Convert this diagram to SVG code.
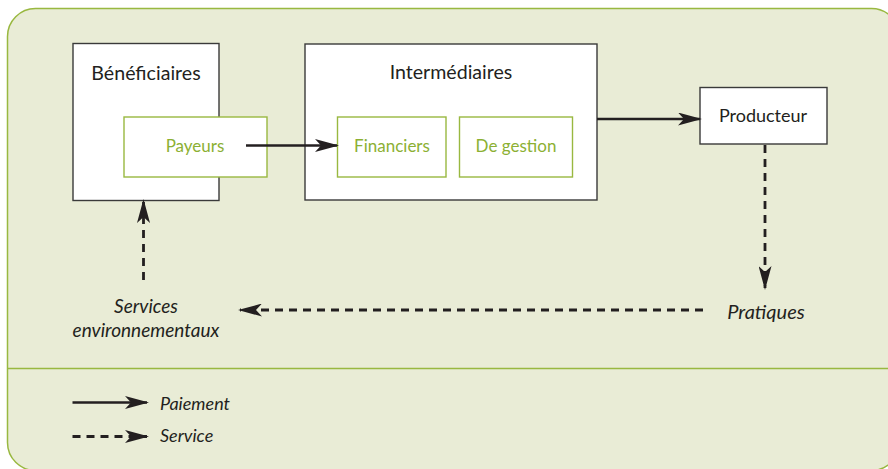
<svg xmlns="http://www.w3.org/2000/svg" width="888" height="469" viewBox="0 0 888 469">
<style>
.box{fill:#fff;stroke:#3a3a3a;stroke-width:1.4}
.gbox{fill:#fff;stroke:#99b840;stroke-width:1.4}
.t{font-family:Lato,"Open Sans",sans-serif;font-size:18px;fill:#231f20;text-anchor:middle}
.g{font-family:Lato,"Open Sans",sans-serif;font-size:17px;fill:#8cb033;text-anchor:middle}
.i{font-family:Lato,"Open Sans",sans-serif;font-size:19px;font-style:italic;fill:#231f20}
.solid{fill:none;stroke:#231f20;stroke-width:2.6;marker-end:url(#ah)}
.dash{fill:none;stroke:#231f20;stroke-width:2.8;stroke-dasharray:8 6;marker-end:url(#ah)}
</style>
<defs>
<marker id="ah" viewBox="0 0 24 13" refX="22" refY="6.5" markerWidth="24" markerHeight="13" markerUnits="userSpaceOnUse" orient="auto">
<path d="M0,0 L24,6.5 L0,13 L6,6.5 Z" fill="#231f20"/>
</marker>
</defs>
<rect id="panel" x="7.5" y="8.5" width="892" height="462" rx="28" fill="#e9ecd6" stroke="#99b840" stroke-width="1.5"/>
<line x1="7.5" y1="368.5" x2="888" y2="368.5" stroke="#99b840" stroke-width="1.5"/>
<g id="beneficiaires">
<rect class="box" x="73" y="43.5" width="146" height="157"/>
<text class="t" x="146" y="80" style="font-size:19.6px">Bénéficiaires</text>
</g>
<g id="payeurs">
<rect class="gbox" x="124" y="117" width="143" height="60"/>
<text class="g" x="195" y="152">Payeurs</text>
</g>
<g id="intermediaires">
<rect class="box" x="305" y="44" width="292" height="156"/>
<text class="t" x="451" y="79" style="font-size:19.6px">Intermédiaires</text>
</g>
<g id="financiers">
<rect class="gbox" x="337.5" y="117" width="108.5" height="60"/>
<text class="g" x="392" y="152">Financiers</text>
</g>
<g id="degestion">
<rect class="gbox" x="459.5" y="117" width="113" height="60"/>
<text class="g" x="516" y="152">De gestion</text>
</g>
<g id="producteur">
<rect class="box" x="700" y="87.5" width="127" height="56.5"/>
<text class="t" x="763" y="122">Producteur</text>
</g>
<g id="pratiques">
<text class="i" x="766" y="319" text-anchor="middle" style="font-size:20px">Pratiques</text>
</g>
<g id="services">
<text class="i" x="146" y="313" text-anchor="middle">Services</text>
<text class="i" x="146" y="337" text-anchor="middle">environnementaux</text>
</g>
<g id="connectors">
<line class="solid" x1="246" y1="145.5" x2="337" y2="145.5"/>
<line class="solid" x1="597" y1="119" x2="700" y2="119"/>
<line class="dash" x1="765" y1="145" x2="765" y2="288"/>
<line class="dash" x1="703" y1="310" x2="240" y2="310"/>
<line class="dash" x1="143.5" y1="280" x2="143.5" y2="201"/>
</g>
<g id="legend">
<line class="solid" x1="72.5" y1="402.5" x2="147" y2="402.5"/>
<text class="i" x="160" y="410" style="font-size:18px">Paiement</text>
<line class="dash" x1="72.5" y1="436.5" x2="147" y2="436.5"/>
<text class="i" x="160" y="442" style="font-size:18px">Service</text>
</g>
</svg>
